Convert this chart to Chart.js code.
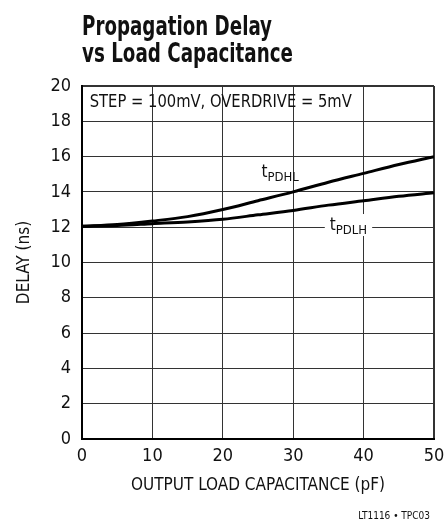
<!DOCTYPE html>
<html>
<head>
<meta charset="utf-8">
<script src="https://cdn.jsdelivr.net/npm/chart.js@4/dist/chart.umd.min.js"></script>
<style>
  html, body { margin: 0; padding: 0; background: #fff; }
  #c { display: block; }
</style>
</head>
<body>
<canvas id="c" width="446" height="521"></canvas>
<script>
// ---- data ----
const capacitance = [0, 5, 10, 15, 20, 25, 30, 35, 40, 45, 50];          // pF
const tPDHL = [12.05, 12.15, 12.35, 12.6, 13.0, 13.5, 14.0, 14.55, 15.05, 15.55, 16.0];   // ns
const tPDLH = [12.05, 12.1, 12.2, 12.3, 12.45, 12.7, 12.95, 13.25, 13.5, 13.75, 13.95];   // ns
const xTickValues = [0, 10, 20, 30, 40, 50];
const yTickValues = [0, 2, 4, 6, 8, 10, 12, 14, 16, 18, 20];
const titleLines = ['Propagation Delay', 'vs Load Capacitance'];
const xAxisTitle = 'OUTPUT LOAD CAPACITANCE (pF)';
const yAxisTitle = 'DELAY (ns)';
const conditionNote = 'STEP = 100mV, OVERDRIVE = 5mV';
const footnote = 'LT1116 \u2022 TPC03';
const seriesLabels = [{ main: 't', sub: 'PDHL', x: 25.5, y: 14.86, gap: false },
                      { main: 't', sub: 'PDLH', x: 35.2, y: 11.84, gap: true }];

const FONT = "'Liberation Sans Narrow', 'Arial Narrow', 'DejaVu Sans Condensed', Roboto, sans-serif";

function fitText(ctx, text, x, y, targetWidth) {
  const w = ctx.measureText(text).width;
  const k = Math.min(1, targetWidth / w);
  ctx.save();
  ctx.translate(x, y);
  ctx.scale(k, 1);
  ctx.fillText(text, 0, 0);
  ctx.restore();
}

const textPlugin = {
  id: 'texts',
  afterDraw(chart) {
    const ctx = chart.ctx;
    const xs = chart.scales.x, ys = chart.scales.y;
    const area = chart.chartArea;
    ctx.save();
    ctx.fillStyle = '#111';
    // title
    ctx.font = 'bold 26px ' + FONT;
    ctx.textAlign = 'left';
    ctx.textBaseline = 'alphabetic';
    fitText(ctx, titleLines[0], area.left, 35, 190);
    fitText(ctx, titleLines[1], area.left, 62, 211);
    // condition note
    ctx.font = '17px ' + FONT;
    ctx.textBaseline = 'middle';
    fitText(ctx, conditionNote, xs.getPixelForValue(1.1), ys.getPixelForValue(19.05), 262);
    // series labels
    seriesLabels.forEach(l => {
      const px = xs.getPixelForValue(l.x), py = ys.getPixelForValue(l.y);
      ctx.font = '17px ' + FONT;
      const wm = ctx.measureText(l.main).width;
      ctx.font = '13px ' + FONT;
      const ws = ctx.measureText(l.sub).width;
      if (l.gap) {
        ctx.fillStyle = '#fff';
        ctx.fillRect(px - 5, py - 16, wm + ws + 10, 22);
        ctx.fillStyle = '#111';
      }
      ctx.textBaseline = 'alphabetic';
      ctx.font = '17px ' + FONT;
      ctx.fillText(l.main, px, py);
      ctx.font = '13px ' + FONT;
      ctx.fillText(l.sub, px + wm, py + 4);
    });
    // axis titles
    ctx.font = '17px ' + FONT;
    ctx.textAlign = 'center';
    ctx.textBaseline = 'middle';
    ctx.fillText(xAxisTitle, (area.left + area.right) / 2, 486);
    ctx.save();
    ctx.translate(25, (area.top + area.bottom) / 2);
    ctx.rotate(-Math.PI / 2);
    ctx.fillText(yAxisTitle, 0, 0);
    ctx.restore();
    // footnote
    ctx.font = '10px ' + FONT;
    ctx.textAlign = 'right';
    ctx.fillText(footnote, 430, 516);
    ctx.restore();
  }
};

new Chart(document.getElementById('c'), {
  type: 'line',
  data: {
    datasets: [
      { label: 'tPDHL', data: capacitance.map((c, i) => ({ x: c, y: tPDHL[i] })),
        borderColor: '#000', borderWidth: 3, pointRadius: 0, tension: 0.4, cubicInterpolationMode: 'monotone', fill: false },
      { label: 'tPDLH', data: capacitance.map((c, i) => ({ x: c, y: tPDLH[i] })),
        borderColor: '#000', borderWidth: 3, pointRadius: 0, tension: 0.4, cubicInterpolationMode: 'monotone', fill: false }
    ]
  },
  options: {
    responsive: false,
    animation: false,
    devicePixelRatio: 1,
    layout: { padding: { top: 86, right: 12, left: 0, bottom: 0 } },
    plugins: { legend: { display: false }, title: { display: false }, tooltip: { enabled: false } },
    scales: {
      x: {
        type: 'linear', min: 0, max: 50,
        afterBuildTicks: s => { s.ticks = xTickValues.map(v => ({ value: v })); },
        afterFit: s => { s.height = 82; s.paddingLeft = 0; s.paddingRight = 0; },
        ticks: { color: '#111', font: { family: FONT, size: 18 }, padding: 7, maxRotation: 0 },
        grid: { color: '#333', lineWidth: c => (c.tick && c.tick.value === 50 ? 2 : 1), drawTicks: false },
        border: { display: true, color: '#000', width: 2 }
      },
      y: {
        type: 'linear', min: 0, max: 20,
        afterBuildTicks: s => { s.ticks = yTickValues.map(v => ({ value: v })); },
        afterFit: s => { s.width = 82; s.paddingTop = 0; s.paddingBottom = 0; },
        ticks: { color: '#111', font: { family: FONT, size: 18 }, padding: 11 },
        grid: { color: '#333', lineWidth: c => (c.tick && c.tick.value === 20 ? 2 : 1), drawTicks: false },
        border: { display: true, color: '#000', width: 2 }
      }
    }
  },
  plugins: [textPlugin]
});
</script>
</body>
</html>
